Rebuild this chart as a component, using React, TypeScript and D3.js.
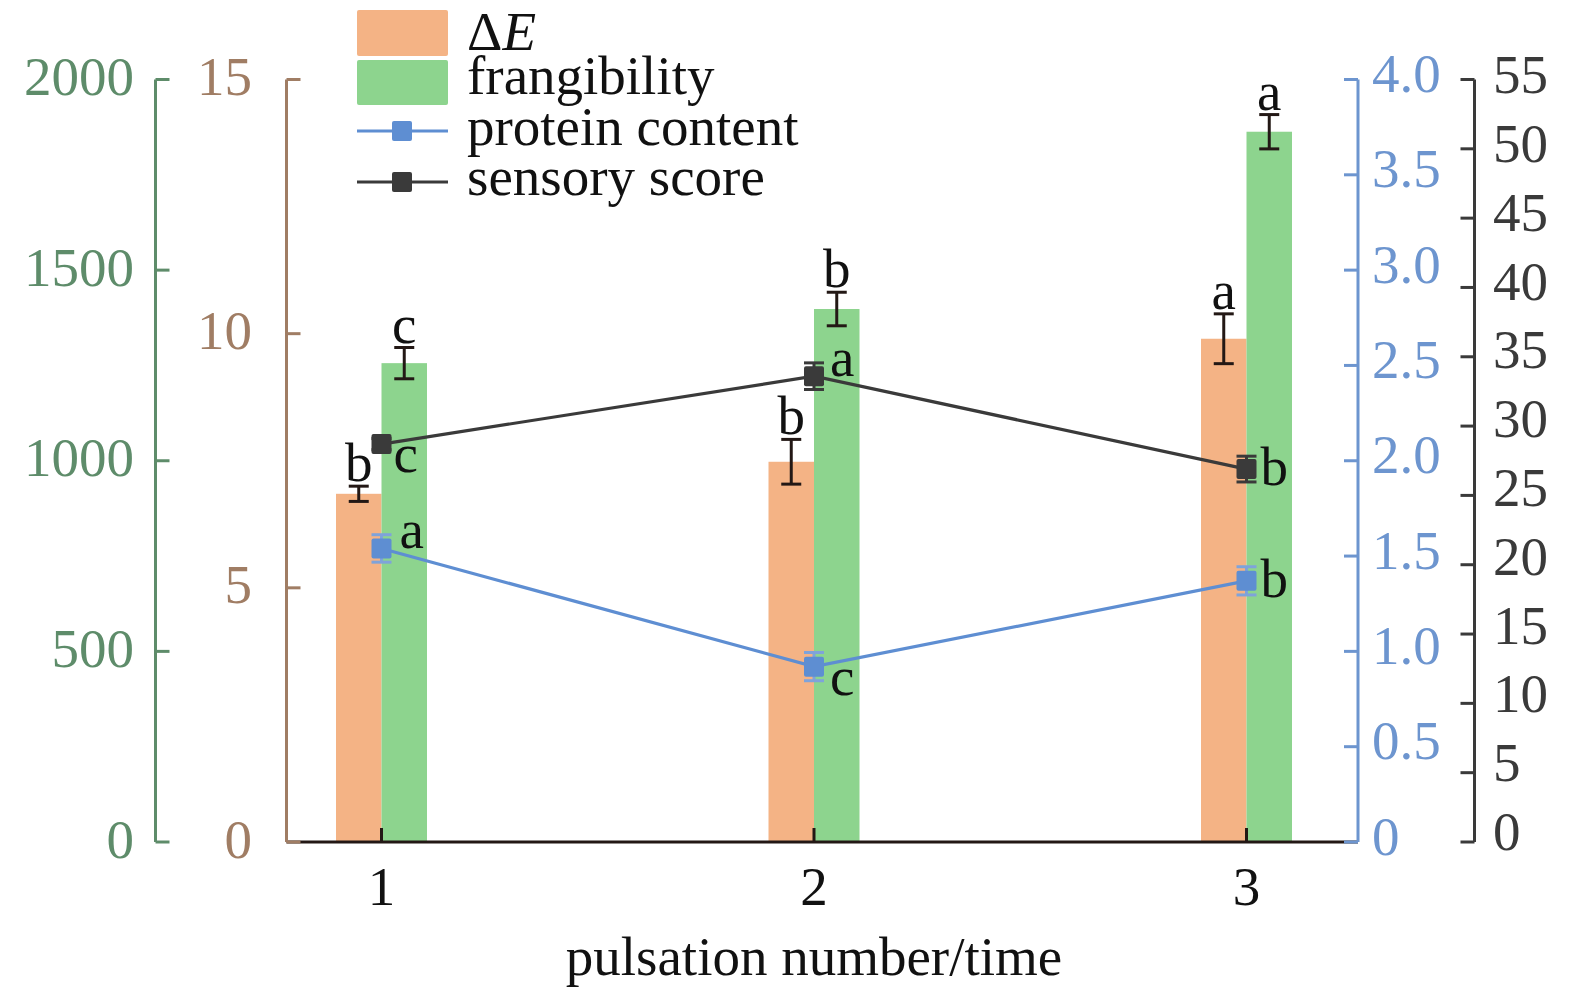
import React, { useEffect } from "react";
import * as d3 from "d3";

const categories = ["1", "2", "3"];
const deltaE = [6.85, 7.48, 9.9];
const deltaEErr = [0.15, 0.44, 0.49];
const deltaELetters = ["b", "b", "a"];
const frangibility = [1256, 1398, 1863];
const frangibilityErr = [41, 44, 45];
const frangLetters = ["c", "b", "a"];
const protein = [1.54, 0.92, 1.37];
const proteinErr = [0.072, 0.074, 0.074];
const proteinLetters = ["a", "c", "b"];
const sensory = [28.7, 33.6, 26.9];
const sensoryErr = [0.4, 0.96, 0.93];
const sensoryLetters = ["c", "a", "b"];

const greenTicks = [0, 500, 1000, 1500, 2000];
const brownTicks = [0, 5, 10, 15];
const blueTicks = [0, 0.5, 1.0, 1.5, 2.0, 2.5, 3.0, 3.5, 4.0];
const blackTicks = [0, 5, 10, 15, 20, 25, 30, 35, 40, 45, 50, 55];

const W = 1575, H = 993;
const Y0 = 842, YT = 79.5;
const FONT = "'Liberation Serif', 'Times New Roman', serif";
const C = {
  orange: "#F4B385",
  green: "#8DD48E",
  blue: "#5E8ED2",
  dark: "#3A3A3A",
  gAxis: "#5E8C6A",
  bAxis: "#A07D64",
  blAxis: "#6D95CF",
  kAxis: "#3A3A3A",
};

export default function App() {
  useEffect(() => {
    document.body.style.margin = "0";
  }, []);

  const x = d3.scalePoint<string>().domain(categories).range([381.5, 1246.5]);
  const yG = d3.scaleLinear().domain([0, 2000]).range([Y0, YT]);
  const yB = d3.scaleLinear().domain([0, 15]).range([Y0, YT]);
  const yBl = d3.scaleLinear().domain([0, 4]).range([Y0, YT]);
  const yK = d3.scaleLinear().domain([0, 55]).range([Y0, YT]);
  const bw = 45.5;
  const fs = 55;

  const xG = 155.5, xBr = 286.5, xBl = 1358, xK = 1474.5;

  const lineGen = (ys: (v: number) => number, vals: number[]) =>
    d3.line<number>().x((_, i) => x(categories[i])!).y((d) => ys(d))(vals) || "";

  const errBar = (cx: number, ylo: number, yhi: number, color: string, cap: number, key: string) => (
    <g key={key} stroke={color} strokeWidth={3}>
      <line x1={cx} x2={cx} y1={ylo} y2={yhi} />
      <line x1={cx - cap / 2} x2={cx + cap / 2} y1={ylo} y2={ylo} />
      <line x1={cx - cap / 2} x2={cx + cap / 2} y1={yhi} y2={yhi} />
    </g>
  );

  const protLabelOff = [[18, 0], [16, 28], [14, 16]];
  const sensLabelOff = [[12, 28], [16, 0], [14, 16]];

  return (
    <svg width={W} height={H} style={{ display: "block" }} fontFamily={FONT}>
      <rect width={W} height={H} fill="#fff" />
      {categories.map((c, i) => (
        <g key={"bars" + c}>
          <rect x={x(c)! - bw} y={yB(deltaE[i])} width={bw} height={Y0 - yB(deltaE[i])} fill={C.orange} />
          <rect x={x(c)!} y={yG(frangibility[i])} width={bw} height={Y0 - yG(frangibility[i])} fill={C.green} />
        </g>
      ))}
      {categories.map((c, i) => {
        const cxo = x(c)! - bw / 2;
        const cxg = x(c)! + bw / 2;
        return (
          <g key={"eb" + c}>
            {errBar(cxo, yB(deltaE[i] - deltaEErr[i]), yB(deltaE[i] + deltaEErr[i]), "#231815", 20, "o")}
            {errBar(cxg, yG(frangibility[i] - frangibilityErr[i]), yG(frangibility[i] + frangibilityErr[i]), "#231815", 20, "g")}
            <text x={cxo} y={yB(deltaE[i] + deltaEErr[i]) - 5} textAnchor="middle" fontSize={fs} fill="#111">{deltaELetters[i]}</text>
            <text x={cxg} y={yG(frangibility[i] + frangibilityErr[i]) - 5} textAnchor="middle" fontSize={fs} fill="#111">{frangLetters[i]}</text>
          </g>
        );
      })}
      <line x1={xBr} x2={xBl} y1={Y0} y2={Y0} stroke="#231815" strokeWidth={3} />
      {categories.map((c) => (
        <g key={"xt" + c}>
          <line x1={x(c)!} x2={x(c)!} y1={Y0} y2={Y0 - 14} stroke="#231815" strokeWidth={3} />
          <text x={x(c)!} y={Y0 + 63} textAnchor="middle" fontSize={fs} fill="#111">{c}</text>
        </g>
      ))}
      <text x={814} y={975} textAnchor="middle" fontSize={fs} fill="#111">pulsation number/time</text>

      <path d={lineGen(yK, sensory)} fill="none" stroke={C.dark} strokeWidth={3.2} />
      <path d={lineGen(yBl, protein)} fill="none" stroke={C.blue} strokeWidth={3.2} />
      {categories.map((c, i) => {
        const cx = x(c)!;
        return (
          <g key={"pts" + c}>
            {errBar(cx, yK(sensory[i] - sensoryErr[i]), yK(sensory[i] + sensoryErr[i]), C.dark, 20, "k")}
            <rect x={cx - 10} y={yK(sensory[i]) - 10} width={20} height={20} rx={2} fill={C.dark} />
            <text x={cx + sensLabelOff[i][0]} y={yK(sensory[i]) + sensLabelOff[i][1]} fontSize={fs} fill="#111">{sensoryLetters[i]}</text>
            {errBar(cx, yBl(protein[i] - proteinErr[i]), yBl(protein[i] + proteinErr[i]), "#7FA3DA", 20, "p")}
            <rect x={cx - 10} y={yBl(protein[i]) - 10} width={20} height={20} rx={2} fill={C.blue} />
            <text x={cx + protLabelOff[i][0]} y={yBl(protein[i]) + protLabelOff[i][1]} fontSize={fs} fill="#111">{proteinLetters[i]}</text>
          </g>
        );
      })}

      <g stroke={C.gAxis} strokeWidth={3}>
        <line x1={xG} x2={xG} y1={YT} y2={Y0} />
        {greenTicks.map((t) => <line key={t} x1={xG} x2={xG + 14} y1={yG(t)} y2={yG(t)} />)}
      </g>
      {greenTicks.map((t) => (
        <text key={"gl" + t} x={134} y={yG(t) - 2} dy="0.32em" textAnchor="end" fontSize={fs} fill={C.gAxis}>{t}</text>
      ))}
      <g stroke={C.bAxis} strokeWidth={3}>
        <line x1={xBr} x2={xBr} y1={YT} y2={Y0} />
        {brownTicks.map((t) => <line key={t} x1={xBr} x2={xBr + 14} y1={yB(t)} y2={yB(t)} />)}
      </g>
      {brownTicks.map((t) => (
        <text key={"bl" + t} x={252} y={yB(t) - 2} dy="0.32em" textAnchor="end" fontSize={fs} fill={C.bAxis}>{t}</text>
      ))}
      <g stroke={C.blAxis} strokeWidth={3}>
        <line x1={xBl} x2={xBl} y1={YT} y2={Y0} />
        {blueTicks.map((t) => <line key={t} x1={xBl - 14} x2={xBl} y1={yBl(t)} y2={yBl(t)} />)}
      </g>
      {blueTicks.map((t) => (
        <text key={"bll" + t} x={1372} y={yBl(t) - 5} dy="0.32em" fontSize={fs} fill={C.blAxis}>{t === 0 ? "0" : t.toFixed(1)}</text>
      ))}
      <g stroke={C.kAxis} strokeWidth={3}>
        <line x1={xK} x2={xK} y1={YT} y2={Y0} />
        {blackTicks.map((t) => <line key={t} x1={xK - 14} x2={xK} y1={yK(t)} y2={yK(t)} />)}
      </g>
      {blackTicks.map((t) => (
        <text key={"kl" + t} x={1493} y={yK(t) - 4 - (55 - t) * 0.1} dy="0.32em" fontSize={fs} fill={C.kAxis}>{t}</text>
      ))}

      <rect x={357} y={10} width={91} height={46} rx={2} fill={C.orange} />
      <rect x={357} y={60} width={91} height={45} rx={2} fill={C.green} />
      <line x1={357} x2={448} y1={131} y2={131} stroke={C.blue} strokeWidth={3} />
      <rect x={392} y={121} width={20} height={20} rx={2} fill={C.blue} />
      <line x1={357} x2={448} y1={182} y2={182} stroke={C.dark} strokeWidth={3} />
      <rect x={392} y={172} width={20} height={20} rx={2} fill={C.dark} />
      <text x={467} y={50} fontSize={fs} fill="#111">Δ<tspan fontStyle="italic">E</tspan></text>
      <text x={467} y={94} fontSize={fs} fill="#111">frangibility</text>
      <text x={467} y={145} fontSize={fs} fill="#111">protein content</text>
      <text x={467} y={195} fontSize={fs} fill="#111">sensory score</text>
    </svg>
  );
}
